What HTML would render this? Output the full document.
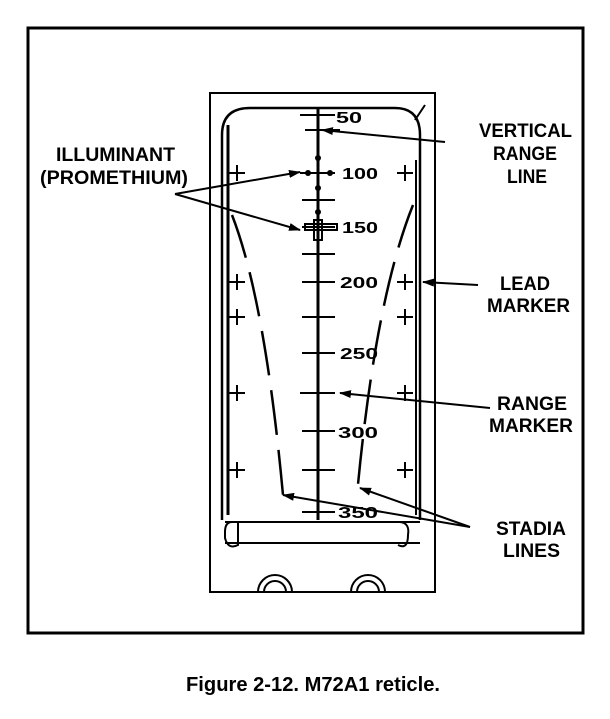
<!DOCTYPE html>
<html><head><style>
body{margin:0;background:#fff;width:610px;height:714px;overflow:hidden}
svg text{font-family:"Liberation Sans",sans-serif;font-weight:bold;fill:#000}
</style></head><body>
<svg width="610" height="714" viewBox="0 0 610 714">
<defs><marker id="a" markerWidth="12" markerHeight="8" refX="11" refY="4" orient="auto" markerUnits="userSpaceOnUse"><path d="M0,0 L12,4 L0,8 z" fill="#000"/></marker></defs>
<rect x="28" y="28" width="555" height="605" fill="none" stroke="#000" stroke-width="3"/>
<g stroke="#000" fill="none" stroke-width="2">
<rect x="210" y="93" width="225" height="499"/>
<path d="M222,520 V135 Q222,108 250,108 H395 Q420,108 420,135 V520" stroke-width="2.5"/>
<path d="M228,125 V515" stroke-width="3"/>
<path d="M416,160 V515" stroke-width="2"/>
<path d="M425,105 L415,120"/>
<path d="M225,522 H420 M225,543 H420"/>
<path d="M232,522 Q225,522 225,532 V538 Q228,550 238,545 V522"/>
<path d="M400,522 Q410,523 408,535 Q408,550 398,545" />
<path d="M258,592 A17,17 0 0 1 292,592 M264,592 A11,11 0 0 1 286,592"/>
<path d="M351,592 A17,17 0 0 1 385,592 M357,592 A11,11 0 0 1 379,592"/>
<path d="M318,107 V520" stroke-width="3"/>
<path d="M300,115 H335 M305,130 H340 M300,173 H335 M302,200 H335 M302,227 H335 M302,254 H335 M302,282 H335 M302,317 H335 M302,353 H335 M300,393 H335 M302,431 H335 M302,470 H335 M302,512 H335"/>
<path d="M229,173 H245 M237,165 V181 M397,173 H413 M405,165 V181"/>
<path d="M229,282 H245 M237,274 V290 M397,282 H413 M405,274 V290"/>
<path d="M229,317 H245 M237,309 V325 M397,317 H413 M405,309 V325"/>
<path d="M229,393 H245 M237,385 V401 M397,393 H413 M405,385 V401"/>
<path d="M229,470 H245 M237,462 V478 M397,470 H413 M405,462 V478"/>
<path d="M232,215 Q265,300 283,495" stroke-dasharray="45,15" stroke-width="2.5"/>
<path d="M413,205 Q375,300 357,495" stroke-dasharray="45,15" stroke-width="2.5"/>
<rect x="305" y="224" width="32" height="6" stroke-width="2"/>
<rect x="314" y="220" width="8" height="20" stroke-width="2"/>
</g>
<g fill="#000"><circle cx="318" cy="158" r="3"/><circle cx="318" cy="188" r="3"/><circle cx="308" cy="173" r="3"/><circle cx="330" cy="173" r="3"/><circle cx="318" cy="212" r="3"/></g>
<g stroke="#000" stroke-width="2" fill="none" marker-end="url(#a)">
<line x1="445" y1="142" x2="322" y2="130"/>
<line x1="175" y1="194" x2="300" y2="172"/>
<line x1="175" y1="194" x2="300" y2="230"/>
<line x1="478" y1="285" x2="423" y2="282"/>
<line x1="490" y1="408" x2="340" y2="393"/>
<line x1="470" y1="527" x2="283" y2="495"/>
<line x1="470" y1="527" x2="360" y2="488"/>
</g>
<g font-size="16">
<text x="336" y="123" textLength="26" lengthAdjust="spacingAndGlyphs">50</text>
<text x="342" y="179" textLength="36" lengthAdjust="spacingAndGlyphs">100</text>
<text x="342" y="233" textLength="36" lengthAdjust="spacingAndGlyphs">150</text>
<text x="340" y="288" textLength="38" lengthAdjust="spacingAndGlyphs">200</text>
<text x="340" y="359" textLength="38" lengthAdjust="spacingAndGlyphs">250</text>
<text x="338" y="438" textLength="40" lengthAdjust="spacingAndGlyphs">300</text>
<text x="338" y="518" textLength="40" lengthAdjust="spacingAndGlyphs">350</text>
</g>
<g font-size="19">
<text x="56" y="161" textLength="119" lengthAdjust="spacingAndGlyphs">ILLUMINANT</text>
<text x="40" y="184" textLength="148" lengthAdjust="spacingAndGlyphs">(PROMETHIUM)</text>
<text x="479" y="137" textLength="93" lengthAdjust="spacingAndGlyphs">VERTICAL</text>
<text x="493" y="160" textLength="64" lengthAdjust="spacingAndGlyphs">RANGE</text>
<text x="507" y="183" textLength="40" lengthAdjust="spacingAndGlyphs">LINE</text>
<text x="500" y="290" textLength="50" lengthAdjust="spacingAndGlyphs">LEAD</text>
<text x="487" y="312" textLength="83" lengthAdjust="spacingAndGlyphs">MARKER</text>
<text x="497" y="410" textLength="70" lengthAdjust="spacingAndGlyphs">RANGE</text>
<text x="489" y="432" textLength="84" lengthAdjust="spacingAndGlyphs">MARKER</text>
<text x="496" y="535" textLength="70" lengthAdjust="spacingAndGlyphs">STADIA</text>
<text x="503" y="557" textLength="57" lengthAdjust="spacingAndGlyphs">LINES</text>
</g>
<text x="186" y="691" font-size="20" textLength="254" lengthAdjust="spacingAndGlyphs">Figure 2-12.  M72A1 reticle.</text>
</svg>
</body></html>
